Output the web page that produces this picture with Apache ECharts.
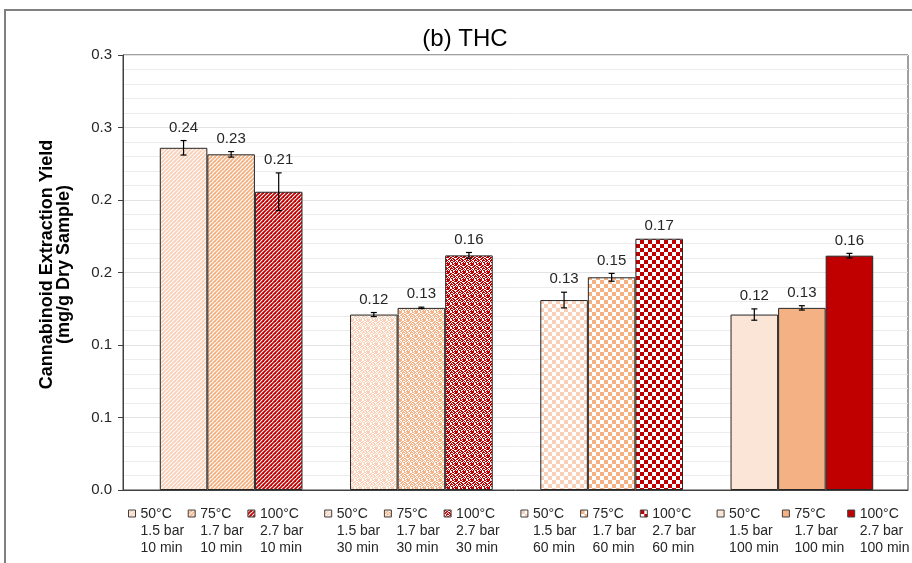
<!DOCTYPE html>
<html>
<head>
<meta charset="utf-8">
<title>(b) THC</title>
<script src="https://cdn.jsdelivr.net/npm/echarts@6/dist/echarts.min.js"></script>
<style>
  html, body { margin: 0; padding: 0; background: #fff; }
  #main { width: 912px; height: 563px; }
</style>
</head>
<body>
<div id="main"></div>
<script>
// extraction time groups and conditions
const times = ['10 min', '30 min', '60 min', '100 min']
const temps = ['50°C', '75°C', '100°C']
const pressures = ['1.5 bar', '1.7 bar', '2.7 bar']
// THC yield (mg/g dry sample), one value per time group
const yield50 = [0.236, 0.121, 0.131, 0.121]
const yield75 = [0.2315, 0.1256, 0.1467, 0.1256]
const yield100 = [0.2057, 0.1618, 0.1733, 0.1616]
// error bar half-lengths
const err50 = [0.005, 0.0014, 0.0054, 0.0039]
const err75 = [0.0019, 0.0005, 0.0027, 0.0015]
const err100 = [0.013, 0.002, 0, 0.0016]
// y tick labels as printed (0.05 steps, one decimal)
const yTicks = ['0.0', '0.1', '0.1', '0.2', '0.2', '0.3', '0.3']

const yields = [yield50, yield75, yield100]
const errs = [err50, err75, err100]

const FONT = 'Liberation Sans'
const TXT = '#262626'
const baseColor = ['#F8D0B8', '#F4B183', '#C00000']
const solidColor = ['#FBE5D6', '#F4B183', '#C00000']

// 8x8 confetti bitmap, 1 = foreground
const confettiBits = [
  '11001101',
  '10110011',
  '01101100',
  '11010110',
  '00111011',
  '10100110',
  '01011001',
  '11001011'
]

// pattern tiles, one kind per time group
function makeTile(kind, color) {
  let c = document.createElement('canvas')
  let ctx = c.getContext('2d')
  if (kind === 'diag') {
    c.width = c.height = 4
    ctx.fillStyle = '#fff'
    ctx.fillRect(0, 0, 4, 4)
    ctx.strokeStyle = color
    ctx.lineWidth = 1.8
    for (let k = -4; k <= 4; k += 4) {
      ctx.beginPath()
      ctx.moveTo(k - 1, 5)
      ctx.lineTo(k + 5, -1)
      ctx.stroke()
    }
  } else if (kind === 'confetti') {
    c.width = c.height = 8
    ctx.fillStyle = '#fff'
    ctx.fillRect(0, 0, 8, 8)
    ctx.fillStyle = color
    confettiBits.forEach((row, y) => {
      for (let x = 0; x < 8; x++) {
        if (row[x] === '1') ctx.fillRect(x, y, 1, 1)
      }
    })
  } else if (kind === 'check') {
    c.width = c.height = 8
    ctx.fillStyle = '#fff'
    ctx.fillRect(0, 0, 8, 8)
    ctx.fillStyle = color
    ctx.fillRect(0, 0, 4, 4)
    ctx.fillRect(4, 4, 4, 4)
  }
  return { image: c, repeat: 'repeat' }
}
const patternKinds = ['diag', 'confetti', 'check', 'solid']
function fillFor(g, t) {
  if (patternKinds[g] === 'solid') return solidColor[t]
  return makeTile(patternKinds[g], baseColor[t])
}

// one bar series per condition, stacked by temperature so 3 bars sit in each group
let seriesNames = []
let barSeries = []
times.forEach((tm, g) => {
  temps.forEach((tp, t) => {
    let name = tp + '\n' + pressures[t] + '\n' + tm
    seriesNames.push(name)
    barSeries.push({
      name: name,
      type: 'bar',
      xAxisIndex: 1,
      yAxisIndex: 1,
      stack: 'T' + t,
      barWidth: '25%',
      barGap: '0%',
      data: times.map((x, i) => (i === g ? yields[t][g] : '-')),
      itemStyle: { color: fillFor(g, t), borderColor: '#262626', borderWidth: 1 },
      emphasis: { disabled: true }
    })
  })
})

// error bars + value labels
let errData = []
times.forEach((tm, g) => {
  temps.forEach((tp, t) => {
    errData.push([g, yields[t][g], errs[t][g], t])
  })
})

const errSeries = {
  type: 'custom',
  xAxisIndex: 1,
  yAxisIndex: 1,
  z: 5,
  silent: true,
  data: errData,
  renderItem(params, api) {
    let g = api.value(0), v = api.value(1), e = api.value(2), t = api.value(3)
    let bw = api.size([1, 0])[0] * 0.25
    let x = api.coord([g, v])[0] + (t - 1) * bw
    let hi = api.coord([g, v + e])[1]
    let lo = api.coord([g, v - e])[1]
    let st = { stroke: '#000', lineWidth: 1.2 }
    let kids = []
    if (e > 0) {
      kids.push({ type: 'line', shape: { x1: x, y1: hi, x2: x, y2: lo }, style: st })
      kids.push({ type: 'line', shape: { x1: x - 3, y1: hi, x2: x + 3, y2: hi }, style: st })
      kids.push({ type: 'line', shape: { x1: x - 3, y1: lo, x2: x + 3, y2: lo }, style: st })
    }
    kids.push({
      type: 'text',
      style: {
        text: v.toFixed(2), x: x, y: hi - 13,
        align: 'center', verticalAlign: 'middle',
        fontSize: 15, fontFamily: FONT, fill: TXT
      }
    })
    return { type: 'group', children: kids }
  }
}

let chart = echarts.init(document.getElementById('main'))
let option = {
  backgroundColor: '#fff',
  animation: false,
  textStyle: { fontFamily: FONT },
  title: {
    text: '(b) THC',
    left: 460,
    top: 22,
    textAlign: 'center',
    textStyle: { fontSize: 24, fontWeight: 'normal', color: '#000', fontFamily: FONT }
  },
  graphic: [{
    type: 'rect',
    shape: { x: 5, y: 10, width: 940, height: 600 },
    style: { fill: 'none', stroke: '#808080', lineWidth: 2 },
    silent: true
  }],
  grid: [
    { left: 123, right: 4, top: 55, bottom: 73, show: true, borderColor: '#404040', borderWidth: 1 },
    { left: 136, right: 15, top: 55, bottom: 73 }
  ],
  legend: {
    data: seriesNames,
    left: 128,
    top: 507,
    width: 800,
    padding: 0,
    itemWidth: 7,
    itemHeight: 42,
    itemGap: 2,
    selectedMode: false,
    icon: 'path://M0,0H7V7H0Z M3.5,42L3.5,42',
    itemStyle: { borderWidth: 1, borderColor: '#404040' },
    formatter(name) {
      let idx = seriesNames.indexOf(name)
      let g = Math.floor(idx / 3), t = idx % 3
      let cls = g === 3 ? 'c' : (t === 2 ? 'b' : 'a')
      return name.split('\n').map(s => '{' + cls + '|' + s + '}').join('\n')
    },
    textStyle: {
      fontSize: 14,
      color: TXT,
      fontFamily: FONT,
      rich: {
        a: { width: 45.2, lineHeight: 17, fontSize: 14, fontFamily: FONT, color: TXT },
        b: { width: 62.3, lineHeight: 17, fontSize: 14, fontFamily: FONT, color: TXT },
        c: { width: 50.8, lineHeight: 17, fontSize: 14, fontFamily: FONT, color: TXT }
      }
    }
  },
  xAxis: [
    {
      gridIndex: 0, type: 'value', min: 0, max: 1,
      axisLine: { show: true, onZero: false, lineStyle: { color: '#404040' } },
      axisTick: { show: false }, axisLabel: { show: false }, splitLine: { show: false }
    },
    { gridIndex: 1, type: 'category', data: times, show: false }
  ],
  yAxis: [
    {
      gridIndex: 0, type: 'value', min: 0, max: 0.3, interval: 0.05,
      name: 'Cannabinoid Extraction Yield\n(mg/g Dry Sample)',
      nameLocation: 'middle',
      nameGap: 50,
      nameTextStyle: { fontSize: 18, fontWeight: 'bold', color: '#000', fontFamily: FONT, lineHeight: 17, padding: [0, 0, 0, 16] },
      axisLine: { show: true, lineStyle: { color: '#404040' } },
      axisTick: { show: true, inside: false, length: 5, lineStyle: { color: '#404040' } },
      axisLabel: {
        margin: 11, fontSize: 15, color: TXT, fontFamily: FONT,
        formatter: v => yTicks[Math.round(v / 0.05)]
      },
      splitLine: { show: true, lineStyle: { color: '#E3E3E3' } },
      minorTick: { show: false, splitNumber: 5 },
      minorSplitLine: { show: true, lineStyle: { color: '#ECECEC' } }
    },
    { gridIndex: 1, type: 'value', min: 0, max: 0.3, show: false, splitLine: { show: false } }
  ],
  series: barSeries.concat([errSeries])
}
chart.setOption(option)
</script>
</body>
</html>
